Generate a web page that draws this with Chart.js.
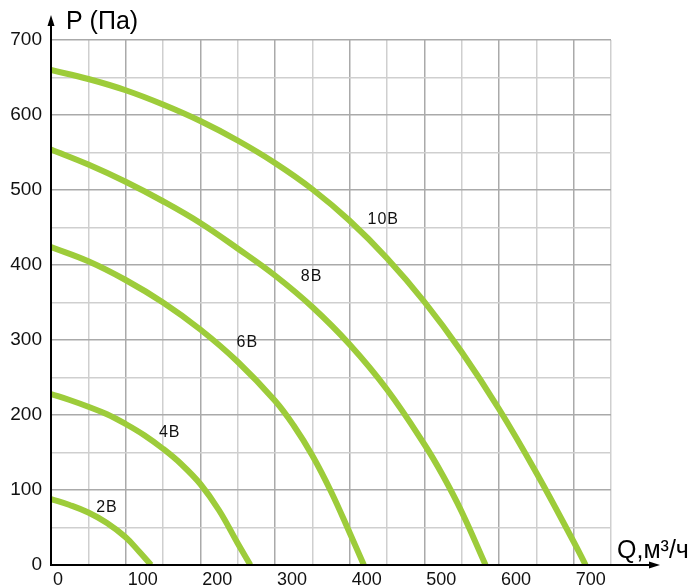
<!DOCTYPE html>
<html>
<head>
<meta charset="utf-8">
<script src="https://cdn.jsdelivr.net/npm/chart.js@4.4.1/dist/chart.umd.min.js"></script>
<style>
  html, body { margin: 0; padding: 0; background: #ffffff; }
  #wrap { width: 695px; height: 588px; }
</style>
</head>
<body>
<div id="wrap"><canvas id="c" width="695" height="588"></canvas></div>
<script>
// ---- data ----
const q2  = [0, 25, 50, 75, 100, 118, 134];
const p2  = [88, 80, 70, 56, 37, 18, 0];

const q4  = [0, 25, 50, 75, 100, 125, 150, 175, 200, 225, 250, 267];
const p4  = [228, 220, 211, 201, 188, 173, 155, 134, 108, 73, 29, 0];

const q6  = [0, 50, 100, 150, 200, 250, 300, 325, 350, 375, 400, 419];
const p6  = [424, 405, 380, 350, 314, 271, 219, 186, 146, 98, 43, 0];

const q8  = [0, 50, 100, 150, 200, 250, 300, 350, 400, 450, 500, 525, 550, 582];
const p8  = [554, 534, 511, 485, 456, 422, 386, 344, 294, 234, 161, 119, 71, 0];

const q10 = [0, 50, 100, 150, 200, 250, 300, 350, 400, 450, 500, 550, 600, 650, 700, 716];
const p10 = [660, 648, 633, 614, 592, 566, 536, 501, 459, 409, 351, 284, 208, 123, 31, 0];

const curveLabels = ['2В', '4В', '6В', '8В', '10В'];
const labelQ = [75, 159, 263, 349, 445];
const labelP = [77, 177, 297, 384, 460];

const xTickLabels = [0, 100, 200, 300, 400, 500, 600, 700];
const yTickLabels = [0, 100, 200, 300, 400, 500, 600, 700];

const xTitle = 'Q,м³/ч';
const yTitle = 'P (Па)';

// ---- chart ----
const GREEN = '#9dcc3a';
function series(qs, ps) { return qs.map((q, i) => ({ x: q, y: ps[i] })); }
const curves = [[q2, p2], [q4, p4], [q6, p6], [q8, p8], [q10, p10]];

const decor = {
  id: 'decor',
  afterDatasetsDraw(chart) {
    const ctx = chart.ctx;
    const xs = chart.scales.x, ys = chart.scales.y;
    const x0 = xs.getPixelForValue(0), y0 = ys.getPixelForValue(0);
    ctx.save();
    // curve labels
    ctx.fillStyle = '#111111';
    ctx.font = '16px "Liberation Sans", Arial, sans-serif';
    try { ctx.letterSpacing = '1px'; } catch (e) {}
    ctx.textAlign = 'center';
    ctx.textBaseline = 'middle';
    curveLabels.forEach((t, i) => {
      ctx.fillText(t, xs.getPixelForValue(labelQ[i]), ys.getPixelForValue(labelP[i]));
    });
    try { ctx.letterSpacing = '0px'; } catch (e) {}
    // axes
    ctx.strokeStyle = '#000000';
    ctx.fillStyle = '#000000';
    ctx.lineWidth = 2;
    const yTop = 24, xRight = 651;
    ctx.beginPath();
    ctx.moveTo(x0, y0 + 1);
    ctx.lineTo(x0, yTop);
    ctx.moveTo(x0 - 1, y0);
    ctx.lineTo(xRight, y0);
    ctx.stroke();
    // arrow heads
    ctx.beginPath();
    ctx.moveTo(x0, yTop - 9);
    ctx.lineTo(x0 - 3.5, yTop + 2);
    ctx.lineTo(x0 + 3.5, yTop + 2);
    ctx.closePath();
    ctx.fill();
    ctx.beginPath();
    ctx.moveTo(xRight + 9, y0);
    ctx.lineTo(xRight - 2, y0 - 3.5);
    ctx.lineTo(xRight - 2, y0 + 3.5);
    ctx.closePath();
    ctx.fill();
    // axis titles
    ctx.font = '25px "Liberation Sans", Arial, sans-serif';
    ctx.textAlign = 'left';
    ctx.textBaseline = 'alphabetic';
    ctx.fillText(yTitle, x0 + 15, 29);
    ctx.fillText(xTitle, 617, 558);
    ctx.restore();
  }
};

new Chart(document.getElementById('c'), {
  type: 'line',
  data: {
    datasets: curves.map(([qs, ps]) => ({
      data: series(qs, ps),
      borderColor: GREEN,
      borderWidth: 6,
      pointRadius: 0,
      fill: false,
      tension: 0.4,
      borderCapStyle: 'butt'
    }))
  },
  options: {
    responsive: false,
    animation: false,
    devicePixelRatio: 1,
    layout: { padding: { top: 40, right: 84, left: 0, bottom: 0 } },
    plugins: { legend: { display: false }, tooltip: { enabled: false } },
    scales: {
      x: {
        type: 'linear', min: 0, max: 750,
        afterFit: s => { s.height = 23; },
        border: { display: false },
        grid: {
          drawTicks: false,
          lineWidth: 1.5,
          color: c => (c.tick && c.tick.value % 100 === 0) ? '#aaaaaa' : '#cfcfcf'
        },
        ticks: {
          stepSize: 50, autoSkip: false, maxRotation: 0, minRotation: 0,
          align: 'start', labelOffset: 2, padding: 4,
          color: '#111111',
          font: { family: '"Liberation Sans", Arial, sans-serif', size: 18 },
          callback: v => xTickLabels.includes(v) ? String(v) : ''
        }
      },
      y: {
        type: 'linear', min: 0, max: 700,
        afterFit: s => { s.width = 51; },
        border: { display: false },
        grid: {
          drawTicks: false,
          lineWidth: 1.5,
          color: c => (c.tick && c.tick.value % 100 === 0) ? '#aaaaaa' : '#cfcfcf'
        },
        ticks: {
          stepSize: 50, autoSkip: false, padding: 9,
          color: '#111111',
          font: { family: '"Liberation Sans", Arial, sans-serif', size: 19 },
          callback: v => yTickLabels.includes(v) ? String(v) : ''
        }
      }
    }
  },
  plugins: [decor]
});
</script>
</body>
</html>
